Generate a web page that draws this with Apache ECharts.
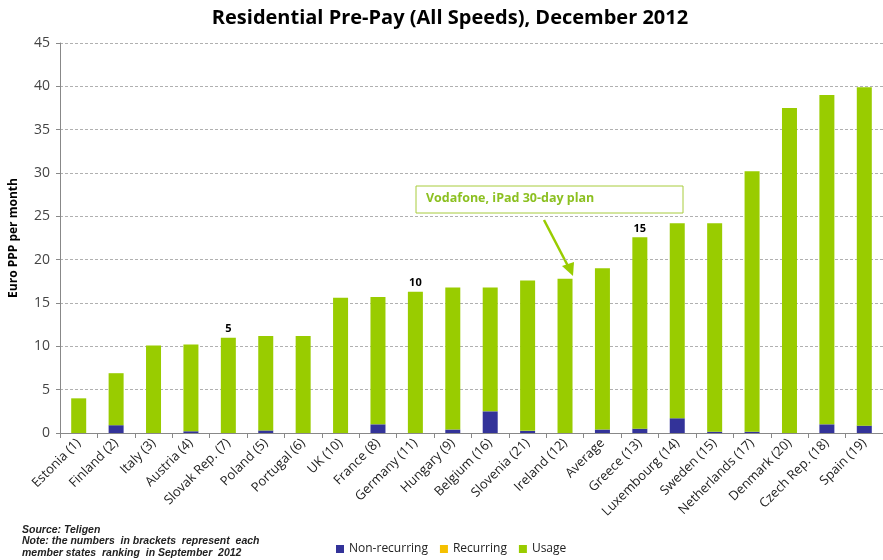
<!DOCTYPE html>
<html><head><meta charset="utf-8">
<script src="https://cdn.jsdelivr.net/npm/echarts@6/dist/echarts.min.js"></script>
<style>html,body{margin:0;padding:0;background:#fff}#c{width:883px;height:560px}</style>
</head><body><div id="c"></div>
<script>
var categories = ["Estonia (1)","Finland (2)","Italy (3)","Austria (4)","Slovak Rep. (7)","Poland (5)","Portugal (6)","UK (10)","France (8)","Germany (11)","Hungary (9)","Belgium (16)","Slovenia (21)","Ireland (12)","Average","Greece (13)","Luxembourg (14)","Sweden (15)","Netherlands (17)","Denmark (20)","Czech Rep. (18)","Spain (19)"];
var nonRecurring = [0,0.9,0,0.2,0,0.3,0,0,1.0,0,0.4,2.5,0.25,0,0.4,0.5,1.7,0.15,0.15,0,1.0,0.85];
var recurring = [0,0,0,0,0,0,0,0,0,0,0,0,0,0,0,0,0,0,0,0,0,0];
var usage = [4.0,6.0,10.1,10.0,11.0,10.9,11.2,15.6,14.7,16.3,16.4,14.3,17.35,17.8,18.6,22.1,22.5,24.05,30.05,37.5,38.0,39.05];
var rankMarks = ["","","","","5","","","","","10","","","","","","15","","","","","",""];
var yTicks = {min:0,max:45,interval:5};

var chart = echarts.init(document.getElementById('c'));
var font = "'Open Sans', 'Noto Sans', sans-serif";
chart.setOption({
  animation:false,
  title:{text:"Residential Pre-Pay (All Speeds), December 2012",left:445,textAlign:'center',top:3,
    textStyle:{fontFamily:font,fontSize:20,fontWeight:'bold',color:'#000'}},
  grid:{left:60,top:43,bottom:127,width:832},
  legend:{bottom:0,left:331,itemWidth:8,itemHeight:8,itemGap:12,icon:'rect',
    textStyle:{fontFamily:font,fontSize:12,color:'#222'},
    data:['Non-recurring','Recurring','Usage']},
  xAxis:{type:'category',data:categories,
    axisLine:{lineStyle:{color:'#888'}},
    axisTick:{show:true,length:5,lineStyle:{color:'#888'}},
    axisLabel:{rotate:45,interval:0,fontFamily:font,fontSize:13,color:'#222',margin:8}},
  yAxis:{type:'value',min:yTicks.min,max:yTicks.max,interval:yTicks.interval,
    name:'Euro PPP per month',nameLocation:'middle',nameGap:40,nameRotate:90,
    nameTextStyle:{fontFamily:font,fontSize:12,fontWeight:'bold',color:'#000'},
    axisLine:{show:true,lineStyle:{color:'#888'}},
    axisTick:{show:true,length:4,lineStyle:{color:'#888'}},
    axisLabel:{fontFamily:font,fontSize:14,color:'#444',margin:10},
    splitLine:{lineStyle:{color:'#b0b0b0',type:[3,2]}}},
  series:[
    {name:'Non-recurring',type:'bar',stack:'t',data:nonRecurring,barWidth:15,itemStyle:{color:'#333399'}},
    {name:'Recurring',type:'bar',stack:'t',data:recurring,barWidth:15,itemStyle:{color:'#f5c000'}},
    {name:'Usage',type:'bar',stack:'t',data:usage,barWidth:15,itemStyle:{color:'#99cc00'},
      label:{show:true,position:'top',distance:3,fontFamily:font,fontSize:11,fontWeight:'bold',color:'#000',
        formatter:function(p){return rankMarks[p.dataIndex];}}}
  ],
  graphic:[
    {type:'rect',shape:{x:416,y:186,width:267,height:27},style:{fill:'#fff',stroke:'#a8cc3c',lineWidth:1}},
    {type:'text',x:426,y:192,style:{text:'Vodafone, iPad 30-day plan',fontFamily:font,fontSize:12.5,fontWeight:'bold',fill:'#8cc021'}},
    {type:'line',shape:{x1:544,y1:220,x2:569,y2:268},style:{stroke:'#99cc00',lineWidth:2.5}},
    {type:'polygon',shape:{points:[[573,276],[562,266],[574,262]]},style:{fill:'#99cc00'}},
    {type:'text',x:22,y:524,style:{text:'Source: Teligen\nNote: the numbers  in brackets  represent  each\nmember states  ranking  in September  2012',
      fontFamily:'Liberation Sans, Arial, sans-serif',fontSize:10.5,fontStyle:'italic',fontWeight:'bold',fill:'#222',lineHeight:11.5}}
  ]
});
</script></body></html>
